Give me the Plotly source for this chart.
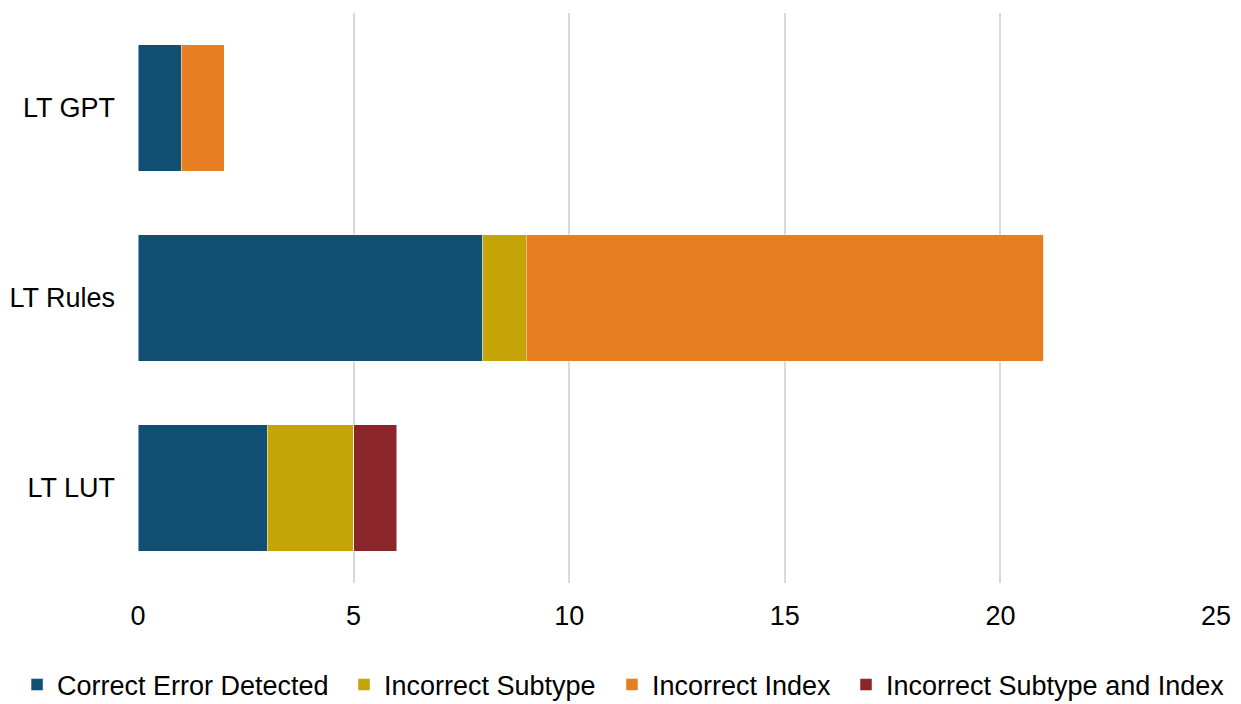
import plotly.graph_objects as go

categories = ["LT GPT", "LT Rules", "LT LUT"]
correct_error_detected = [1, 8, 3]
incorrect_subtype = [0, 1, 2]
incorrect_index = [1, 12, 0]
incorrect_subtype_and_index = [0, 0, 1]
x_ticks = [0, 5, 10, 15, 20, 25]

series = [
    ("Correct Error Detected", correct_error_detected, "#114F73"),
    ("Incorrect Subtype", incorrect_subtype, "#C4A406"),
    ("Incorrect Index", incorrect_index, "#E77E21"),
    ("Incorrect Subtype and Index", incorrect_subtype_and_index, "#8A252A"),
]
# left edge (plot-area fraction) of each series' legend entry
legend_x = [-0.1122, 0.1911, 0.4397, 0.6568]

font_family = "Liberation Sans, Arial, sans-serif"

fig = go.Figure()
legend_layouts = {}
for i, (name, vals, color) in enumerate(series):
    lg = "legend" if i == 0 else f"legend{i + 1}"
    fig.add_trace(go.Bar(
        y=categories, x=vals, name=name, orientation="h", legend=lg,
        showlegend=True,
        marker=dict(color=color, line=dict(color="rgba(255,255,255,0.6)", width=0.8)),
    ))
    legend_layouts[lg] = dict(
        orientation="h", x=legend_x[i], xanchor="left",
        y=-0.179, yanchor="middle",
        font=dict(size=27), itemwidth=30, bgcolor="rgba(0,0,0,0)",
    )

fig.update_layout(
    showlegend=True,
    barmode="stack",
    bargap=0.332,
    width=1241, height=704,
    margin=dict(l=138, r=25, t=13, b=121, autoexpand=False),
    paper_bgcolor="white", plot_bgcolor="white",
    font=dict(family=font_family, size=27, color="#000000"),
    xaxis=dict(
        range=[0, 25], tickvals=x_ticks, showgrid=True, gridcolor="#D9D9D9",
        gridwidth=2, zeroline=False, showline=False, ticks="",
        ticklabelstandoff=14, tickfont=dict(size=27),
    ),
    yaxis=dict(
        categoryorder="array", categoryarray=categories, autorange="reversed",
        showgrid=False, zeroline=False, showline=False, ticks="",
        ticklabelstandoff=22, tickfont=dict(size=27),
    ),
    **legend_layouts,
)

fig.write_html("out.html")
